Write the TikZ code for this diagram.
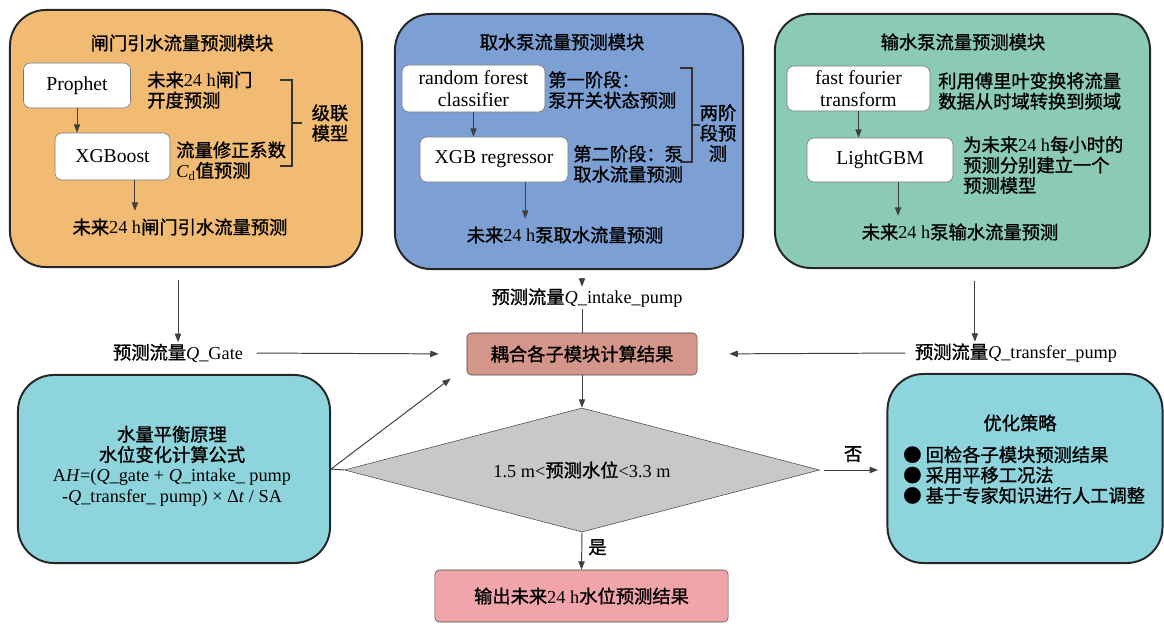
\documentclass[tikz,border=0pt]{standalone}
\usepackage{fontspec}
\setmainfont{Liberation Serif}
\newfontfamily\cjk[FakeBold=1.2]{Noto Sans CJK SC}
\newcommand{\zh}[1]{{\cjk #1}}
\usepackage{xcolor}
\usetikzlibrary{shapes,arrows.meta,positioning}

\definecolor{gateorange}{RGB}{241,187,116}
\definecolor{intakeblue}{RGB}{124,160,212}
\definecolor{transfergreen}{RGB}{139,203,180}
\definecolor{balancecyan}{RGB}{141,212,221}
\definecolor{couplered}{RGB}{212,150,138}
\definecolor{outputpink}{RGB}{241,165,170}
\definecolor{checkgray}{RGB}{200,200,200}

\begin{document}
\begin{tikzpicture}[x=0.025cm,y=-0.025cm,
    font=\fontsize{13}{14.5}\selectfont,
    module/.style={draw=black!85,line width=1.4pt,rounded corners=0.9cm,inner sep=0pt},
    modelbox/.style={draw=black!55,fill=white,rounded corners=5pt,align=center,inner sep=0pt,font=\fontsize{14}{15.5}\selectfont},
    note/.style={align=left,anchor=west,inner sep=0pt},
    flowlabel/.style={inner sep=1pt},
    stepnode/.style={draw=black!70,rounded corners=3pt,inner sep=0pt},
    arr/.style={draw=black!75,line width=0.7pt,-{Triangle[length=6pt,width=4.5pt]}},
    link/.style={draw=black!75,line width=0.7pt},
    brace/.style={draw=black!80,line width=1.6pt}]
        % Fix the page size
        \useasboundingbox (0,0) rectangle (1164,624);

        % Draw gate module
        \node[module,fill=gateorange,minimum width=8.8cm,minimum height=6.425cm] (gatemod) at (186,138.5) {};
        \node (gatetitle) at (182,43) {\zh{闸门引水流量预测模块}};
        \node[modelbox,minimum width=2.675cm,minimum height=1.125cm] (prophet) at (77,85.5) {Prophet};
        \node[modelbox,minimum width=2.875cm,minimum height=1.175cm] (xgboost) at (112.5,156.5) {XGBoost};
        \node[note] (prophetnote) at (147,90) {\zh{未来}24 h\zh{闸门}\\\zh{开度预测}};
        \node[note] (xgbnote) at (176,161) {\zh{流量修正系数}\\\textit{C}\textsubscript{d}\zh{值预测}};
        \node (gateout) at (180,227) {\zh{未来}24 h\zh{闸门引水流量预测}};
        \draw[arr] (prophet.south) -- (prophet.south |- xgboost.north);
        \draw[arr,shorten >=2pt] ([xshift=0.56cm]xgboost.south) -- ([xshift=0.56cm]xgboost.south |- gateout.north);
        % Draw cascade bracket
        \draw[brace] (280,80) -- (292,80) -- (292,166) -- (280,166);
        \draw[brace] (292,123) -- (302,123);
        \node[align=center,inner sep=0pt] (cascade) at (330,123) {\zh{级联}\\\zh{模型}};

        % Draw intake pump module
        \node[module,fill=intakeblue,minimum width=8.7cm,minimum height=6.375cm] (intakemod) at (569,141.5) {};
        \node (intaketitle) at (562,42) {\zh{取水泵流量预测模块}};
        \node[modelbox,minimum width=3.575cm,minimum height=1.175cm] (forest) at (473.5,88.5) {random forest\\classifier};
        \node[modelbox,minimum width=3.7cm,minimum height=1.125cm] (xgbreg) at (494,159.5) {XGB regressor};
        \node[note] (forestnote) at (548,90) {\zh{第一阶段：}\\\zh{泵开关状态预测}};
        \node[note] (xgbregnote) at (573,164) {\zh{第二阶段：泵}\\\zh{取水流量预测}};
        \node (intakeout) at (565,235) {\zh{未来}24 h\zh{泵取水流量预测}};
        \draw[arr] (forest.south) -- (forest.south |- xgbreg.north);
        \draw[arr,shorten >=2pt] ([xshift=0.78cm]xgbreg.south) -- ([xshift=0.78cm]xgbreg.south |- intakeout.north);
        % Draw two-stage bracket
        \draw[brace] (680,68) -- (692,68) -- (692,162) -- (680,162);
        \draw[brace] (692,125) -- (700,125);
        \node[align=center,inner sep=0pt] (twostage) at (718,133) {\zh{两阶}\\\zh{段预}\\\zh{测}};

        % Draw transfer pump module
        \node[module,fill=transfergreen,minimum width=9.375cm,minimum height=6.35cm] (transfermod) at (962.5,141) {};
        \node (transfertitle) at (963,42) {\zh{输水泵流量预测模块}};
        \node[modelbox,minimum width=3.575cm,minimum height=1.125cm] (fft) at (858.5,88.5) {fast fourier\\transform};
        \node[modelbox,minimum width=3.65cm,minimum height=1.1cm] (lgbm) at (880,160) {LightGBM};
        \node[note] (fftnote) at (938,91) {\zh{利用傅里叶变换将流量}\\\zh{数据从时域转换到频域}};
        \node[note] (lgbmnote) at (963,165) {\zh{为未来}24 h\zh{每小时的}\\\zh{预测分别建立一个}\\\zh{预测模型}};
        \node (transferout) at (960,232) {\zh{未来}24 h\zh{泵输水流量预测}};
        \draw[arr] (fft.south) -- (fft.south |- lgbm.north);
        \draw[arr,shorten >=2pt] ([xshift=0.45cm]lgbm.south) -- ([xshift=0.45cm]lgbm.south |- transferout.north);

        % Draw coupling node
        \node[stepnode,fill=couplered,minimum width=5.75cm,minimum height=1.05cm] (couple) at (582,354) {\zh{耦合各子模块计算结果}};
        % Draw predicted flows
        \node[flowlabel] (gatelbl) at (178,353) {\zh{预测流量}\textit{Q}\_Gate};
        \node[flowlabel] (intakelbl) at (587,298) {\zh{预测流量}\textit{Q}\_intake\_pump};
        \node[flowlabel] (transferlbl) at (1016,353) {\zh{预测流量}\textit{Q}\_transfer\_pump};
        \draw[arr] ([shift={(-0.2cm,-0.3cm)}]gatemod.south) -- ([xshift=-0.2cm]gatemod.south |- gatelbl.north);
        \draw[arr] ([yshift=-0.25cm]intakemod.south -| couple.north) -- (intakelbl.north -| couple.north);
        \draw[link] (intakelbl.south -| couple.north) -- (couple.north);
        \draw[arr] ([shift={(0.31cm,-0.3cm)}]transfermod.south) -- ([xshift=0.31cm]transfermod.south |- transferlbl.north);
        \draw[arr,shorten <=0.3cm,shorten >=0.7cm] (gatelbl.east) -- (couple.west);
        \draw[arr,shorten <=0.2cm,shorten >=0.8cm] (transferlbl.west) -- (couple.east);

        % Draw water balance box
        \node[module,fill=balancecyan,minimum width=7.8cm,minimum height=4.7cm] (balance) at (174,469) {};
        \node[align=center,inner sep=0pt] (balancetext) at (172,466) {\zh{水量平衡原理}\\\zh{水位变化计算公式}\\
            A\textit{H}=(\textit{Q}\_gate + \textit{Q}\_intake\_ pump\\
            -\textit{Q}\_transfer\_ pump) × Δ\textit{t} / SA};

        % Draw water level check
        \node[diamond,draw=black!70,fill=checkgray,aspect=3.8,inner sep=0pt,minimum width=11.875cm,minimum height=3.1cm] (check) at (582,470) {1.5 m<\zh{预测水位}<3.3 m};
        \draw[arr] (couple.south) -- (check.north);
        \draw[link] (balance.east) -- (check.west);
        \draw[arr] (balance.east) -- ([shift={(-0.4cm,-0.08cm)}]couple.south west);

        % Draw optimisation box
        \node[module,fill=balancecyan,minimum width=6.875cm,minimum height=4.725cm] (optimise) at (1025,468.5) {};
        \node (optitle) at (1020,423) {\zh{优化策略}};
        \node[note] (oplist) at (903,475) {\zh{● 回检各子模块预测结果}\\\zh{● 采用平移工况法}\\\zh{● 基于专家知识进行人工调整}};
        \draw[arr,shorten <=3pt,shorten >=6pt] (check.east) -- node[above=2pt] {\zh{否}} (check.east -| optimise.west);

        % Draw output node
        \node[stepnode,fill=outputpink,minimum width=7.325cm,minimum height=1.3cm] (output) at (581.5,596) {\zh{输出未来}24 h\zh{水位预测结果}};
        \draw[arr] (check.south) -- node[right=1pt,pos=0.4] {\zh{是}} (output.north);
    \end{tikzpicture}
\end{document}
